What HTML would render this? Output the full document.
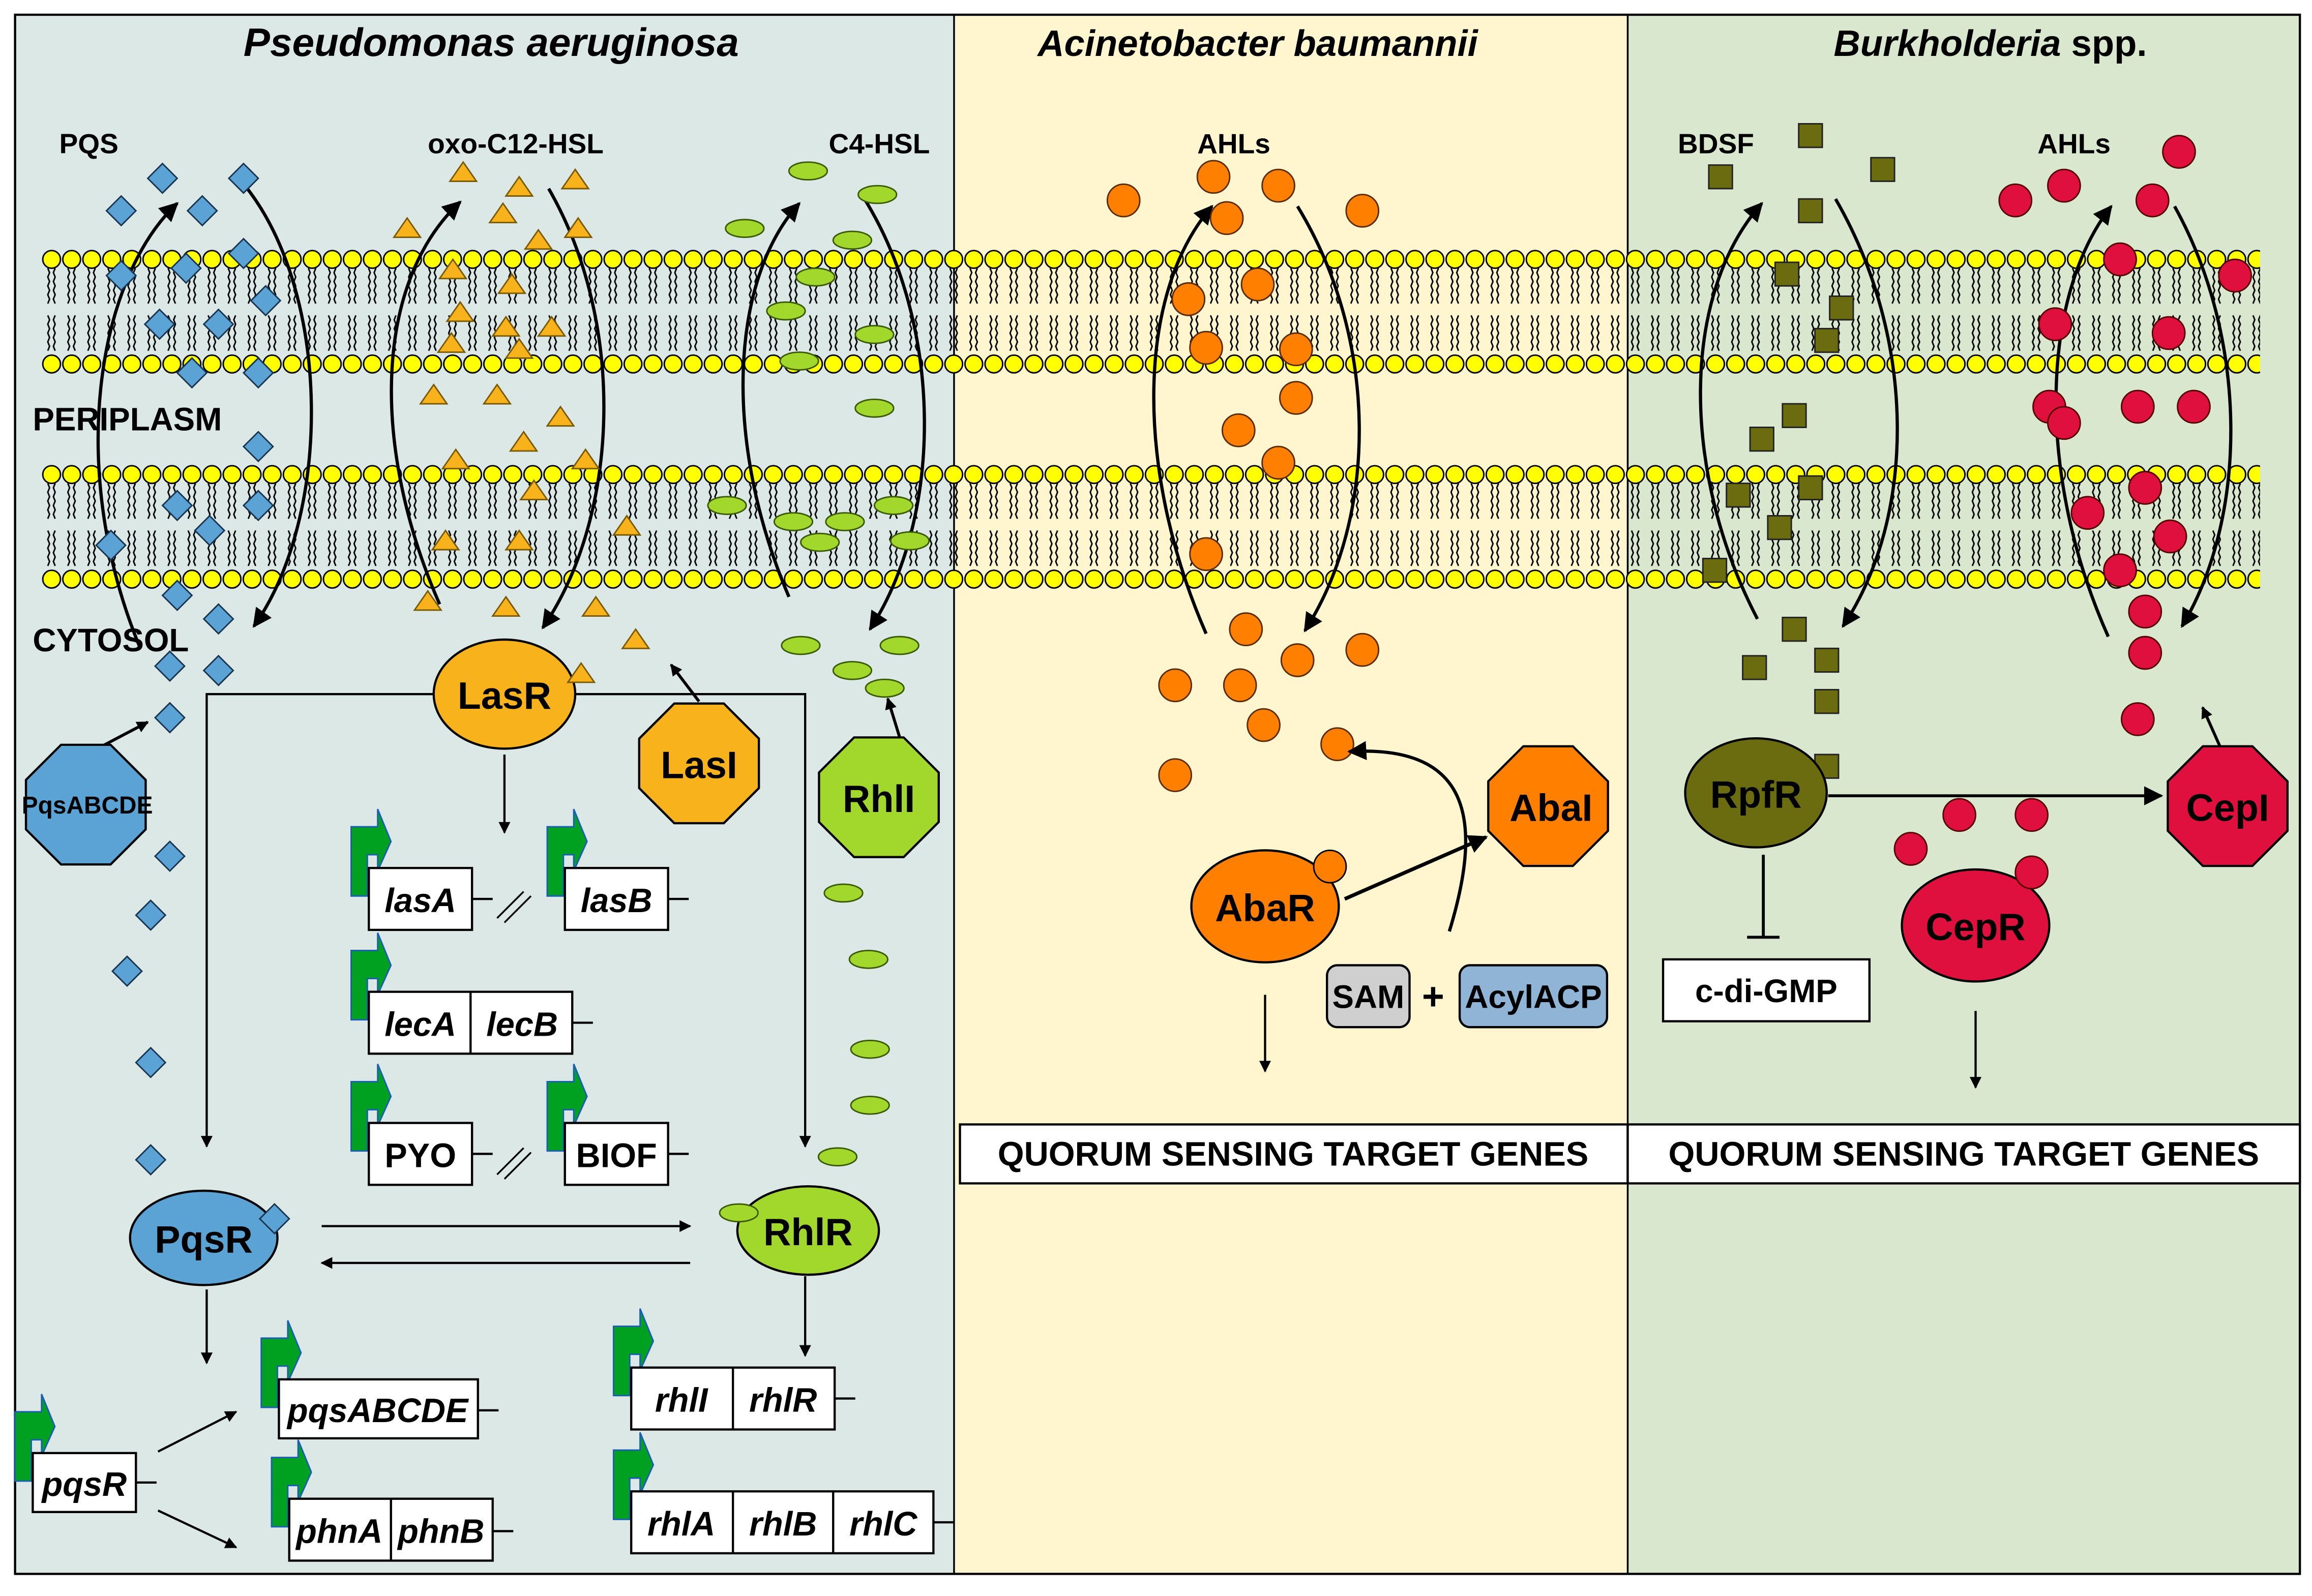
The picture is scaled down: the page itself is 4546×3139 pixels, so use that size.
<!DOCTYPE html>
<html><head><meta charset="utf-8"><style>
html,body{margin:0;padding:0;background:#fff}
svg{display:block}
text{font-family:"Liberation Sans",Arial,sans-serif;font-weight:bold;fill:#000}
</style></head><body>
<svg width="4546" height="3139" viewBox="0 0 1568 1083" xmlns="http://www.w3.org/2000/svg">
<defs>
<pattern id="mem" patternUnits="userSpaceOnUse" x="28" y="169" width="13.6" height="146">
 <path d="M4.2 13 l1.2 3 -1.2 3 1.2 3 -1.2 3 1.2 3 -1.2 3 1.2 3 -1.2 3 M9.2 13 l-1.2 3 1.2 3 -1.2 3 1.2 3 -1.2 3 1.2 3 -1.2 3 1.2 3 M4.2 45 l1.2 3 -1.2 3 1.2 3 -1.2 3 1.2 3 -1.2 3 1.2 3 -1.2 3 M9.2 45 l-1.2 3 1.2 3 -1.2 3 1.2 3 -1.2 3 1.2 3 -1.2 3 1.2 3" fill="none" stroke="#000" stroke-width="1"/>
 <circle cx="6.8" cy="7" r="6" fill="#ffff00" stroke="#000" stroke-width="1"/>
 <circle cx="6.8" cy="78" r="6" fill="#ffff00" stroke="#000" stroke-width="1"/>
</pattern>
<marker id="ah" viewBox="0 0 10 10" refX="9" refY="5" markerWidth="8" markerHeight="8" markerUnits="userSpaceOnUse" orient="auto"><path d="M0 0 L10 5 L0 10Z" fill="#000"/></marker>
<marker id="ah2" viewBox="0 0 10 10" refX="9" refY="5" markerWidth="13" markerHeight="13" markerUnits="userSpaceOnUse" orient="auto"><path d="M0 0 L10 5 L0 10Z" fill="#000"/></marker>
<path id="dm" d="M0,-10 L10,0 0,10 -10,0Z"/>
<path id="tr" d="M0,-7 L9,6 -9,6Z"/>
<polygon id="oct" points="16.8,-40.6 40.6,-16.8 40.6,16.8 16.8,40.6 -16.8,40.6 -40.6,16.8 -40.6,-16.8 -16.8,-40.6"/>
<path id="pr" d="M-12,19 L-12,-28 L6,-28 L6,-40 L15,-18 L6,2 L6,-9 L-1,-9 L-1,19Z"/>
</defs>

<rect x="0" y="0" width="1568" height="1083" fill="#fff"/>
<rect x="10" y="10" width="637" height="1058" fill="#dce8e6"/>
<rect x="647" y="10" width="457" height="1058" fill="#fff6d0"/>
<rect x="1104" y="10" width="456" height="1058" fill="#d8e7cd"/>
<rect x="10" y="10" width="1550" height="1058" fill="none" stroke="#000" stroke-width="1.5"/>
<line x1="647" y1="10" x2="647" y2="1068" stroke="#000" stroke-width="1.2"/>
<line x1="1104" y1="10" x2="1104" y2="1068" stroke="#000" stroke-width="1.2"/>

<rect x="28" y="169" width="1505" height="86" fill="url(#mem)"/>
<rect x="28" y="315" width="1505" height="86" fill="url(#mem)"/>

<text x="333" y="38" text-anchor="middle" font-size="27" font-style="italic">Pseudomonas aeruginosa</text>
<text x="853" y="38" text-anchor="middle" font-size="25" font-style="italic">Acinetobacter baumannii</text>
<text x="1350" y="38" text-anchor="middle" font-size="25"><tspan font-style="italic">Burkholderia</tspan> spp.</text>

<text x="40" y="104" font-size="19">PQS</text>
<text x="290" y="104" font-size="19">oxo-C12-HSL</text>
<text x="562" y="104" font-size="19">C4-HSL</text>
<text x="812" y="104" font-size="19">AHLs</text>
<text x="1138" y="104" font-size="19">BDSF</text>
<text x="1382" y="104" font-size="19">AHLs</text>
<text x="22" y="292" font-size="22">PERIPLASM</text>
<text x="22" y="442" font-size="22">CYTOSOL</text>

<g fill="none" stroke="#000" stroke-width="2.2" marker-end="url(#ah2)">
<path d="M95 440 C45 320 65 190 120 138"/>
<path d="M166 126 C225 200 225 350 172 425"/>
<path d="M298 410 C250 300 255 190 312 137"/>
<path d="M372 128 C425 220 420 350 368 426"/>
<path d="M535 405 C490 300 495 190 542 138"/>
<path d="M585 133 C640 220 640 350 590 427"/>
<path d="M818 430 C770 320 770 200 822 140"/>
<path d="M880 140 C935 230 935 350 885 428"/>
<path d="M1192 420 C1140 320 1140 200 1195 138"/>
<path d="M1245 135 C1300 230 1300 350 1250 425"/>
<path d="M1430 432 C1380 320 1385 200 1432 140"/>
<path d="M1475 140 C1525 230 1525 350 1480 425"/>
</g>

<g fill="#5ba3d4" stroke="#1a3550" stroke-width="1">
<use href="#dm" x="110" y="121"/><use href="#dm" x="137" y="143"/><use href="#dm" x="165" y="121"/><use href="#dm" x="82" y="143"/>
<use href="#dm" x="82" y="187"/><use href="#dm" x="126" y="182"/><use href="#dm" x="165" y="172"/><use href="#dm" x="108" y="220"/>
<use href="#dm" x="148" y="220"/><use href="#dm" x="180" y="204"/><use href="#dm" x="130" y="253"/><use href="#dm" x="175" y="253"/>
<use href="#dm" x="175" y="303"/><use href="#dm" x="120" y="343"/><use href="#dm" x="175" y="343"/><use href="#dm" x="142" y="360"/>
<use href="#dm" x="75" y="370"/><use href="#dm" x="120" y="404"/><use href="#dm" x="148" y="420"/><use href="#dm" x="115" y="452"/>
<use href="#dm" x="148" y="455"/><use href="#dm" x="115" y="487"/><use href="#dm" x="115" y="581"/><use href="#dm" x="102" y="621"/>
<use href="#dm" x="86" y="659"/><use href="#dm" x="102" y="721"/><use href="#dm" x="102" y="787"/>
</g>
<g fill="#f7b21c" stroke="#7a5a00" stroke-width="1">
<use href="#tr" x="314" y="117"/><use href="#tr" x="352" y="127"/><use href="#tr" x="390" y="122"/><use href="#tr" x="341" y="145"/>
<use href="#tr" x="276" y="155"/><use href="#tr" x="392" y="155"/><use href="#tr" x="365" y="163"/><use href="#tr" x="307" y="183"/>
<use href="#tr" x="347" y="193"/><use href="#tr" x="312" y="212"/><use href="#tr" x="343" y="222"/><use href="#tr" x="374" y="222"/>
<use href="#tr" x="306" y="233"/><use href="#tr" x="352" y="237"/><use href="#tr" x="294" y="268"/><use href="#tr" x="337" y="268"/>
<use href="#tr" x="380" y="283"/><use href="#tr" x="355" y="300"/><use href="#tr" x="309" y="312"/><use href="#tr" x="397" y="312"/>
<use href="#tr" x="362" y="333"/><use href="#tr" x="302" y="367"/><use href="#tr" x="352" y="367"/><use href="#tr" x="425" y="357"/>
<use href="#tr" x="290" y="408"/><use href="#tr" x="343" y="412"/><use href="#tr" x="404" y="412"/><use href="#tr" x="431" y="434"/>
</g>
<g fill="#a2d72c" stroke="#3a5a00" stroke-width="1">
<ellipse cx="548" cy="116" rx="13" ry="6"/><ellipse cx="595" cy="132" rx="13" ry="6"/><ellipse cx="505" cy="155" rx="13" ry="6"/>
<ellipse cx="578" cy="163" rx="13" ry="6"/><ellipse cx="553" cy="188" rx="13" ry="6"/><ellipse cx="533" cy="211" rx="13" ry="6"/>
<ellipse cx="593" cy="227" rx="13" ry="6"/><ellipse cx="542" cy="245" rx="13" ry="6"/><ellipse cx="593" cy="277" rx="13" ry="6"/>
<ellipse cx="493" cy="343" rx="13" ry="6"/><ellipse cx="538" cy="354" rx="13" ry="6"/><ellipse cx="573" cy="354" rx="13" ry="6"/>
<ellipse cx="606" cy="343" rx="13" ry="6"/><ellipse cx="556" cy="368" rx="13" ry="6"/><ellipse cx="617" cy="367" rx="13" ry="6"/>
<ellipse cx="543" cy="438" rx="13" ry="6"/><ellipse cx="578" cy="455" rx="13" ry="6"/><ellipse cx="610" cy="438" rx="13" ry="6"/>
<ellipse cx="600" cy="467" rx="13" ry="6"/><ellipse cx="572" cy="606" rx="13" ry="6"/><ellipse cx="589" cy="651" rx="13" ry="6"/>
<ellipse cx="590" cy="712" rx="13" ry="6"/><ellipse cx="590" cy="750" rx="13" ry="6"/><ellipse cx="568" cy="785" rx="13" ry="6"/>
</g>
<g fill="#ff8000" stroke="#5a2a00" stroke-width="1">
<circle cx="762" cy="136" r="11"/><circle cx="823" cy="120" r="11"/><circle cx="867" cy="126" r="11"/><circle cx="924" cy="143" r="11"/>
<circle cx="832" cy="148" r="11"/><circle cx="806" cy="203" r="11"/><circle cx="853" cy="193" r="11"/><circle cx="818" cy="236" r="11"/>
<circle cx="879" cy="237" r="11"/><circle cx="879" cy="270" r="11"/><circle cx="840" cy="292" r="11"/><circle cx="867" cy="314" r="11"/>
<circle cx="818" cy="376" r="11"/><circle cx="845" cy="427" r="11"/><circle cx="880" cy="448" r="11"/><circle cx="924" cy="441" r="11"/>
<circle cx="797" cy="465" r="11"/><circle cx="841" cy="465" r="11"/><circle cx="857" cy="492" r="11"/><circle cx="907" cy="505" r="11"/>
<circle cx="797" cy="526" r="11"/>
</g>
<g fill="#6b6b10" stroke="#222" stroke-width="1">
<rect x="1220" y="84" width="16" height="16"/><rect x="1159" y="112" width="16" height="16"/><rect x="1269" y="107" width="16" height="16"/>
<rect x="1220" y="135" width="16" height="16"/><rect x="1204" y="178" width="16" height="16"/><rect x="1241" y="201" width="16" height="16"/>
<rect x="1231" y="223" width="16" height="16"/><rect x="1209" y="274" width="16" height="16"/><rect x="1187" y="290" width="16" height="16"/>
<rect x="1220" y="323" width="16" height="16"/><rect x="1171" y="328" width="16" height="16"/><rect x="1199" y="350" width="16" height="16"/>
<rect x="1155" y="379" width="16" height="16"/><rect x="1209" y="419" width="16" height="16"/><rect x="1182" y="445" width="16" height="16"/>
<rect x="1231" y="440" width="16" height="16"/><rect x="1231" y="468" width="16" height="16"/><rect x="1231" y="512" width="16" height="16"/>
</g>
<g fill="#e0103e" stroke="#500" stroke-width="1">
<circle cx="1478" cy="103" r="11"/><circle cx="1367" cy="136" r="11"/><circle cx="1400" cy="126" r="11"/><circle cx="1460" cy="136" r="11"/>
<circle cx="1438" cy="176" r="11"/><circle cx="1516" cy="187" r="11"/><circle cx="1394" cy="220" r="11"/><circle cx="1471" cy="226" r="11"/>
<circle cx="1390" cy="276" r="11"/><circle cx="1450" cy="276" r="11"/><circle cx="1488" cy="276" r="11"/><circle cx="1400" cy="287" r="11"/>
<circle cx="1455" cy="331" r="11"/><circle cx="1416" cy="348" r="11"/><circle cx="1472" cy="364" r="11"/><circle cx="1438" cy="387" r="11"/>
<circle cx="1455" cy="415" r="11"/><circle cx="1455" cy="443" r="11"/><circle cx="1450" cy="488" r="11"/><circle cx="1329" cy="553" r="11"/>
<circle cx="1378" cy="553" r="11"/><circle cx="1296" cy="576" r="11"/>
</g>

<g fill="none" stroke="#000" stroke-width="1.5">
<path d="M342 512 L342 565" marker-end="url(#ah)"/>
<path d="M295 471 L140 471 L140 778" marker-end="url(#ah)"/>
<path d="M390 471 L546 471 L546 778" marker-end="url(#ah)"/>
<path d="M474 476 L455 451" marker-end="url(#ah)" stroke-width="2"/>
<path d="M610 500 L602 474" marker-end="url(#ah)" stroke-width="2"/>
<path d="M62 510 L100 490" marker-end="url(#ah)" stroke-width="2"/>
<path d="M218 832 L468 832" marker-end="url(#ah)"/>
<path d="M468 857 L218 857" marker-end="url(#ah)"/>
<path d="M140 875 L140 925" marker-end="url(#ah)"/>
<path d="M107 985 L160 958" marker-end="url(#ah)"/>
<path d="M107 1025 L160 1050" marker-end="url(#ah)"/>
<path d="M546 866 L546 920" marker-end="url(#ah)"/>
<path d="M912 610 L1008 568" marker-end="url(#ah2)" stroke-width="2.5"/>
<path d="M983 632 C1005 560 1000 505 915 510" marker-end="url(#ah2)" stroke-width="2.2"/>
<path d="M858 675 L858 727" marker-end="url(#ah)"/>
<path d="M1240 540 L1466 540" marker-end="url(#ah2)" stroke-width="2"/>
<path d="M1196 580 L1196 636 M1185 636 L1207 636" stroke-width="2"/>
<path d="M1506 507 L1494 480" marker-end="url(#ah)" stroke-width="2"/>
<path d="M1340 686 L1340 738" marker-end="url(#ah)"/>
</g>

<ellipse cx="342" cy="471" rx="48" ry="37" fill="#f7b21c" stroke="#000" stroke-width="1.5"/>
<use href="#tr" x="394" y="457" fill="#f7b21c" stroke="#7a5a00"/>
<text x="342" y="481" text-anchor="middle" font-size="26">LasR</text>
<use href="#oct" x="474" y="518" fill="#f7b21c" stroke="#000" stroke-width="1.5"/>
<text x="474" y="528" text-anchor="middle" font-size="26">LasI</text>
<use href="#oct" x="596" y="541" fill="#a2d72c" stroke="#000" stroke-width="1.5"/>
<text x="596" y="551" text-anchor="middle" font-size="26">RhlI</text>
<use href="#oct" x="58" y="546" fill="#5ba3d4" stroke="#000" stroke-width="1.5"/>
<text x="59" y="552" text-anchor="middle" font-size="16.5">PqsABCDE</text>
<ellipse cx="138" cy="840" rx="50" ry="32" fill="#5ba3d4" stroke="#000" stroke-width="1.5"/>
<use href="#dm" x="186" y="827" fill="#5ba3d4" stroke="#1a3550"/>
<text x="138" y="850" text-anchor="middle" font-size="26">PqsR</text>
<ellipse cx="548" cy="835" rx="48" ry="30" fill="#a2d72c" stroke="#000" stroke-width="1.5"/>
<ellipse cx="501" cy="823" rx="13" ry="6" fill="#a2d72c" stroke="#3a5a00"/>
<text x="548" y="845" text-anchor="middle" font-size="26">RhlR</text>

<ellipse cx="858" cy="615" rx="50" ry="38" fill="#ff8000" stroke="#000" stroke-width="1.5"/>
<circle cx="902" cy="588" r="11" fill="#ff8000" stroke="#000"/>
<text x="858" y="625" text-anchor="middle" font-size="26">AbaR</text>
<use href="#oct" x="1050" y="547" fill="#ff8000" stroke="#000" stroke-width="1.5"/>
<text x="1052" y="557" text-anchor="middle" font-size="26">AbaI</text>
<rect x="900" y="655" width="56" height="42" rx="7" fill="#cfcfcf" stroke="#000" stroke-width="1.5"/>
<text x="928" y="684" text-anchor="middle" font-size="22">SAM</text>
<text x="972" y="685" text-anchor="middle" font-size="26" font-weight="normal">+</text>
<rect x="990" y="655" width="100" height="42" rx="7" fill="#8fb4d6" stroke="#000" stroke-width="1.5"/>
<text x="1040" y="684" text-anchor="middle" font-size="22">AcylACP</text>

<ellipse cx="1191" cy="538" rx="48" ry="37" fill="#6b6b10" stroke="#000" stroke-width="1.5"/>
<text x="1191" y="548" text-anchor="middle" font-size="26">RpfR</text>
<use href="#oct" x="1511" y="547" fill="#e0103e" stroke="#000" stroke-width="1.5"/>
<text x="1511" y="557" text-anchor="middle" font-size="26">CepI</text>
<ellipse cx="1340" cy="628" rx="50" ry="38" fill="#e0103e" stroke="#000" stroke-width="1.5"/>
<circle cx="1378" cy="592" r="11" fill="#e0103e" stroke="#500"/>
<text x="1340" y="638" text-anchor="middle" font-size="26">CepR</text>
<rect x="1128" y="651" width="140" height="42" fill="#fff" stroke="#000" stroke-width="1.5"/>
<text x="1198" y="680" text-anchor="middle" font-size="22">c-di-GMP</text>

<rect x="651" y="763" width="453" height="40" fill="#fff" stroke="#000" stroke-width="1.5"/>
<text x="877" y="791" text-anchor="middle" font-size="23">QUORUM SENSING TARGET GENES</text>
<rect x="1104" y="763" width="456" height="40" fill="#fff" stroke="#000" stroke-width="1.5"/>
<text x="1332" y="791" text-anchor="middle" font-size="23">QUORUM SENSING TARGET GENES</text>

<g fill="#00a020" stroke="#1a5fb4" stroke-width="1">
<use href="#pr" x="250" y="589"/><use href="#pr" x="383" y="589"/><use href="#pr" x="250" y="673"/>
<use href="#pr" x="250" y="762"/><use href="#pr" x="383" y="762"/><use href="#pr" x="189" y="936"/>
<use href="#pr" x="196" y="1017"/><use href="#pr" x="22" y="986"/><use href="#pr" x="428" y="928"/><use href="#pr" x="428" y="1012"/>
</g>
<g stroke="#000" stroke-width="1.5" fill="none">
<path d="M320 610 L334 610 M453 610 L467 610 M388 694 L402 694 M320 783 L334 783 M453 783 L467 783 M324 957 L338 957 M334 1039 L348 1039 M92 1006 L106 1006 M566 949 L580 949 M633 1033 L647 1033"/>
<path d="M337 623 L355 605 M342 626 L360 608 M337 797 L355 779 M342 800 L360 782" stroke-width="1.2"/>
</g>
<g fill="#fff" stroke="#000" stroke-width="1.5">
<rect x="250" y="589" width="70" height="42"/><rect x="383" y="589" width="70" height="42"/>
<rect x="250" y="673" width="138" height="42"/><line x1="319" y1="673" x2="319" y2="715"/>
<rect x="250" y="762" width="70" height="42"/><rect x="383" y="762" width="70" height="42"/>
<rect x="189" y="936" width="135" height="40"/>
<rect x="196" y="1017" width="138" height="42"/><line x1="265" y1="1017" x2="265" y2="1059"/>
<rect x="22" y="986" width="70" height="40"/>
<rect x="428" y="928" width="138" height="42"/><line x1="497" y1="928" x2="497" y2="970"/>
<rect x="428" y="1012" width="205" height="42"/><line x1="497" y1="1012" x2="497" y2="1054"/><line x1="565" y1="1012" x2="565" y2="1054"/>
</g>
<g font-size="23" font-style="italic" text-anchor="middle">
<text x="285" y="619">lasA</text><text x="418" y="619">lasB</text>
<text x="285" y="703">lecA</text><text x="354" y="703">lecB</text>
<text x="256" y="965">pqsABCDE</text>
<text x="230" y="1047">phnA</text><text x="299" y="1047">phnB</text>
<text x="57" y="1015">pqsR</text>
<text x="462" y="958">rhlI</text><text x="531" y="958">rhlR</text>
<text x="462" y="1042">rhlA</text><text x="531" y="1042">rhlB</text><text x="599" y="1042">rhlC</text>
</g>
<text x="285" y="792" text-anchor="middle" font-size="23">PYO</text>
<text x="418" y="792" text-anchor="middle" font-size="23">BIOF</text>
</svg>
</body></html>
